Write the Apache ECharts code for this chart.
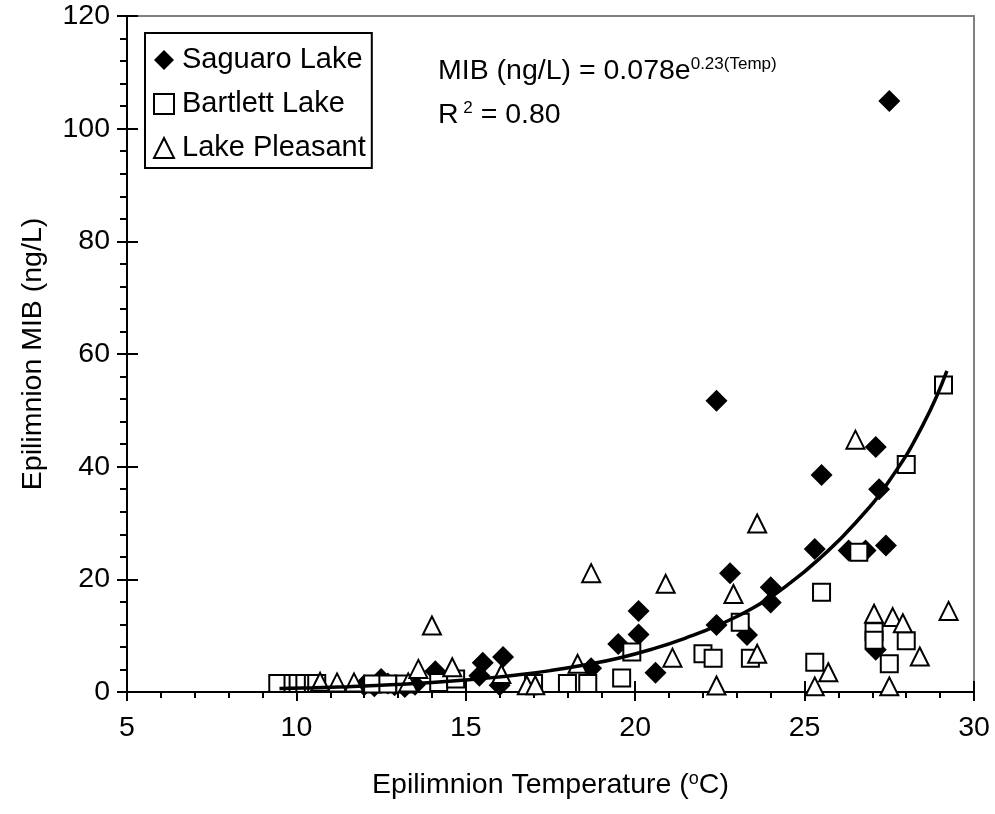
<!DOCTYPE html>
<html><head><meta charset="utf-8">
<script src="https://cdn.jsdelivr.net/npm/echarts@6/dist/echarts.min.js"></script>
<style>html,body{margin:0;padding:0;background:#fff}#c{width:995px;height:814px}</style>
</head><body><div id="c"></div>
<script>
// Axis ticks
const xTicks = [5, 10, 15, 20, 25, 30];
const yTicks = [0, 20, 40, 60, 80, 100, 120];

// Series names
const seriesNames = ['Saguaro Lake', 'Bartlett Lake', 'Lake Pleasant'];

// Saguaro Lake: [temperature, MIB]
const saguaro = [
  [12.0, 1.2], [12.3, 1.0], [12.5, 2.3], [12.7, 1.5], [12.9, 1.2], [13.2, 0.9], [13.5, 1.3],
  [14.1, 3.7], [15.4, 2.9], [15.5, 5.2], [16.0, 1.2], [16.1, 6.2], [18.7, 4.2],
  [19.5, 8.5], [20.1, 10.2], [20.1, 14.4], [20.6, 3.4], [22.4, 11.9], [22.4, 51.7],
  [22.8, 21.1], [23.3, 10.1], [24.0, 15.9], [24.0, 18.6], [25.3, 25.4], [25.5, 38.5],
  [26.3, 25.1], [26.8, 25.1], [27.1, 43.5], [27.1, 7.5], [27.2, 36.0], [27.4, 26.0],
  [27.5, 104.9]
];

// Bartlett Lake
const bartlett = [
  [9.45, 1.5], [9.9, 1.5], [10.05, 1.5], [10.25, 1.5], [10.5, 1.5], [10.6, 1.5],
  [12.25, 1.4], [12.7, 1.4], [13.2, 1.4], [14.2, 1.7], [14.7, 2.3],
  [17.0, 1.5], [18.0, 1.5], [18.6, 1.5], [19.6, 2.5], [19.9, 7.1],
  [22.0, 6.8], [22.3, 6.0], [23.1, 12.4], [23.4, 6.0], [25.3, 5.3], [25.5, 17.7],
  [26.6, 24.8], [27.05, 10.7], [27.05, 9.2], [27.5, 5.0], [28.0, 9.1], [28.0, 40.4],
  [29.1, 54.5]
];

// Lake Pleasant
const pleasant = [
  [10.7, 1.8], [11.2, 1.7], [11.7, 1.7], [13.3, 1.7], [13.6, 4.1], [14.0, 11.8],
  [14.6, 4.4], [16.05, 3.2], [16.8, 1.2], [17.05, 1.2], [18.3, 5.0], [18.7, 21.1],
  [20.9, 19.2], [21.1, 6.1], [22.4, 1.15], [22.9, 17.4], [23.6, 6.8], [23.6, 29.9],
  [25.3, 1.0], [25.7, 3.5], [26.5, 44.8], [27.05, 13.9], [27.5, 1.0], [27.6, 13.3],
  [27.9, 12.2], [28.4, 6.3], [29.25, 14.4]
];

// Trend curve
const trendX = [9.5, 10.5, 11.5, 12.5, 13.5, 14.5, 15.5, 16.5, 17.5, 18.5, 19.5, 20.5, 21.5, 22.5, 23.5, 24.5, 25.5, 26.5, 27.5, 28.5, 29.2];
const trendY = [0.6, 0.75, 0.95, 1.2, 1.5, 1.9, 2.4, 3.0, 3.8, 4.8, 6.0, 7.6, 9.6, 12.0, 15.0, 19.0, 24.0, 30.0, 37.5, 47.5, 57.0];

const FONT = 'Liberation Sans, Arial, sans-serif';
const chart = echarts.init(document.getElementById('c'), null, {renderer: 'canvas'});

const xMin = xTicks[0], xMax = xTicks[xTicks.length - 1], xInt = xTicks[1] - xTicks[0];
const yMin = yTicks[0], yMax = yTicks[yTicks.length - 1], yInt = yTicks[1] - yTicks[0];

const hollow = {color: '#fff', borderColor: '#000', borderWidth: 2};

chart.setOption({
  animation: false,
  backgroundColor: '#fff',
  grid: {left: 127, right: 21, top: 16, bottom: 122, show: true, borderColor: '#808080', borderWidth: 2, backgroundColor: 'transparent'},
  xAxis: [{
    type: 'value', min: xMin, max: xMax, interval: xInt,
    name: 'Epilimnion Temperature ({sup|o}C)', nameLocation: 'middle', nameGap: 78,
    nameTextStyle: {fontSize: 28.5, fontFamily: FONT, color: '#000', rich: {sup: {fontSize: 18, fontFamily: FONT, color: '#000', verticalAlign: 'top', padding: [0, 0, 12, 0]}}},
    axisLine: {show: true, onZero: false, lineStyle: {color: '#000', width: 2}},
    axisTick: {show: true, length: 9, lineStyle: {color: '#000', width: 2}},
    minorTick: {show: true, splitNumber: 5, length: 6, lineStyle: {color: '#000', width: 2}},
    axisLabel: {fontSize: 28.5, fontFamily: FONT, color: '#000', margin: 22},
    splitLine: {show: false}
  }, {
    type: 'value', min: xMin, max: xMax, interval: xInt, position: 'bottom',
    axisLine: {show: false}, axisLabel: {show: false},
    axisTick: {show: true, inside: true, length: 11, lineStyle: {color: '#000', width: 2}},
    splitLine: {show: false}
  }],
  yAxis: [{
    type: 'value', min: yMin, max: yMax, interval: yInt,
    name: 'Epilimnion MIB (ng/L)', nameLocation: 'middle', nameGap: 79,
    nameTextStyle: {fontSize: 28.5, fontFamily: FONT, color: '#000'},
    axisLine: {show: true, onZero: false, lineStyle: {color: '#000', width: 2}},
    axisTick: {show: true, length: 10, lineStyle: {color: '#000', width: 2}},
    minorTick: {show: true, splitNumber: 5, length: 7, lineStyle: {color: '#000', width: 2}},
    axisLabel: {fontSize: 28.5, fontFamily: FONT, color: '#000', margin: 17},
    splitLine: {show: false}
  }, {
    type: 'value', min: yMin, max: yMax, interval: yInt, position: 'left',
    axisLine: {show: false}, axisLabel: {show: false},
    axisTick: {show: true, inside: true, length: 11, lineStyle: {color: '#000', width: 2}},
    splitLine: {show: false}
  }],
  legend: {
    orient: 'vertical', left: 145, top: 33,
    padding: [12, 6, 5, 8], itemGap: 14, itemWidth: 20, itemHeight: 20,
    borderColor: '#000', borderWidth: 2, backgroundColor: '#fff',
    textStyle: {fontSize: 29, fontFamily: FONT, color: '#000', lineHeight: 30, padding: [0, 0, 0, 3]},
    data: [
      {name: seriesNames[0], icon: 'diamond', itemStyle: {color: '#000', borderWidth: 0}},
      {name: seriesNames[1], icon: 'rect', itemStyle: {color: '#fff', borderColor: '#000', borderWidth: 2}},
      {name: seriesNames[2], icon: 'triangle', itemStyle: {color: '#fff', borderColor: '#000', borderWidth: 2}}
    ]
  },
  graphic: [
    {type: 'text', left: 438, top: 56, z: 100, style: {
      text: '{m|MIB (ng/L) = 0.078e}{s|0.23(Temp)}', fill: '#000',
      rich: {
        m: {fontSize: 28.5, fontFamily: FONT, fill: '#000', verticalAlign: 'bottom'},
        s: {fontSize: 17, fontFamily: FONT, fill: '#000', verticalAlign: 'top', padding: [0, 0, 13, 0]}
      }
    }},
    {type: 'text', left: 438, top: 100, z: 100, style: {
      text: '{m|R}{s| 2}{m| = 0.80}', fill: '#000',
      rich: {
        m: {fontSize: 28.5, fontFamily: FONT, fill: '#000', verticalAlign: 'bottom'},
        s: {fontSize: 17, fontFamily: FONT, fill: '#000', verticalAlign: 'top', padding: [0, 0, 13, 0]}
      }
    }}
  ],
  series: [
    {name: seriesNames[0], type: 'scatter', symbol: 'diamond', symbolSize: 22, data: saguaro,
     itemStyle: {color: '#000', opacity: 1}, z: 3},
    {name: seriesNames[1], type: 'scatter', symbol: 'rect', symbolSize: 17, data: bartlett,
     itemStyle: Object.assign({opacity: 1}, hollow), z: 4},
    {name: seriesNames[2], type: 'scatter', symbol: 'triangle', symbolSize: 18, data: pleasant,
     itemStyle: Object.assign({opacity: 1}, hollow), z: 5},
    {name: 'trend', type: 'line', smooth: true, showSymbol: false, symbol: 'none',
     data: trendX.map((x, i) => [x, trendY[i]]),
     lineStyle: {color: '#000', width: 3.5}, z: 6, silent: true}
  ]
});
</script>
</body></html>
